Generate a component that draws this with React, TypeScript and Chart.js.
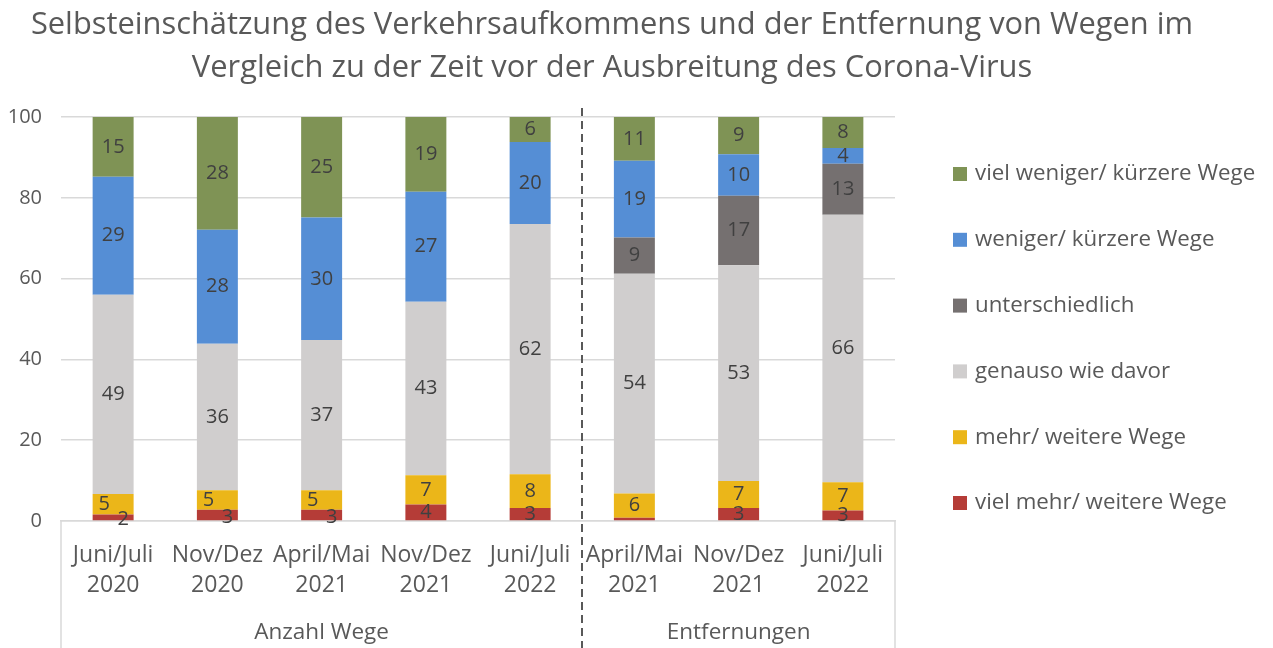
import React, { useEffect, useRef } from 'react';
import { Chart, registerables } from 'chart.js';

Chart.register(...registerables);

const TITLE_LINES = [
  'Selbsteinschätzung des Verkehrsaufkommens und der Entfernung von Wegen im',
  'Vergleich zu der Zeit vor der Ausbreitung des Corona-Virus',
];

const CATEGORIES = [
  ['Juni/Juli', '2020'],
  ['Nov/Dez', '2020'],
  ['April/Mai', '2021'],
  ['Nov/Dez', '2021'],
  ['Juni/Juli', '2022'],
  ['April/Mai', '2021'],
  ['Nov/Dez', '2021'],
  ['Juni/Juli', '2022'],
];

const GROUP_LABELS = ['Anzahl Wege', 'Entfernungen'];
const GROUP_SIZES = [5, 3];

const SERIES_NAMES = [
  'viel mehr/ weitere Wege',
  'mehr/ weitere Wege',
  'genauso wie davor',
  'unterschiedlich',
  'weniger/ kürzere Wege',
  'viel weniger/ kürzere Wege',
];

const VIEL_MEHR = [1.6, 2.8, 2.8, 4.1, 3.2, 0.8, 3.2, 2.6];
const MEHR = [5.1, 4.8, 4.8, 7.2, 8.4, 6.0, 6.7, 7.0];
const GENAUSO = [49.3, 36.3, 37.2, 43.0, 61.9, 54.4, 53.4, 66.2];
const UNTERSCHIEDLICH = [0, 0, 0, 0, 0, 9.0, 17.2, 12.6];
const WENIGER = [29.2, 28.2, 30.3, 27.2, 20.3, 19.0, 10.3, 3.9];
const VIEL_WENIGER = [14.8, 27.9, 24.9, 18.7, 6.2, 10.8, 9.2, 7.8];

const SERIES_VALUES = [VIEL_MEHR, MEHR, GENAUSO, UNTERSCHIEDLICH, WENIGER, VIEL_WENIGER];
const SERIES_COLORS = ['#B53C37', '#EBB619', '#D0CECE', '#757070', '#558ED5', '#7F9355'];

const Y_MIN = 0;
const Y_MAX = 100;
const Y_STEP = 20;

const FONT = '"Open Sans", "DejaVu Sans", sans-serif';
const TEXT_COLOR = '#595959';
const LABEL_COLOR = '#404040';
const GRID_COLOR = '#D9D9D9';

const decorPlugin = {
  id: 'decor',
  afterDatasetsDraw(chart: any) {
    const ctx = chart.ctx;

    // data labels
    ctx.save();
    ctx.font = `20px ${FONT}`;
    ctx.fillStyle = LABEL_COLOR;
    ctx.textAlign = 'center';
    ctx.textBaseline = 'middle';
    const n = CATEGORIES.length;
    for (let j = 0; j < n; j++) {
      const items: { x: number; y: number; text: string }[] = [];
      chart.data.datasets.forEach((ds: any, i: number) => {
        const v = ds.data[j];
        if (!v || v < 1) return;
        const el = chart.getDatasetMeta(i).data[j];
        items.push({ x: el.x, y: (el.y + el.base) / 2, text: String(Math.round(v)) });
      });
      for (let k = 0; k < items.length - 1; k++) {
        if (items[k].y - items[k + 1].y < 17) {
          items[k].x += 10;
          items[k].y += 2;
          items[k + 1].x -= 9;
        }
      }
      items.forEach((it) => ctx.fillText(it.text, it.x, it.y));
    }
    ctx.restore();
  },
  afterDraw(chart: any) {
    const ctx = chart.ctx;
    const area = chart.chartArea;
    const xScale = chart.scales.x;
    const H = chart.height;

    // title
    ctx.save();
    ctx.fillStyle = TEXT_COLOR;
    ctx.textAlign = 'center';
    ctx.textBaseline = 'middle';
    ctx.font = `26px ${FONT}`;
    const w = ctx.measureText(TITLE_LINES[0]).width;
    const size = (26 * 1163) / w;
    ctx.font = `${size}px ${FONT}`;
    ctx.fillText(TITLE_LINES[0], 612, 25);
    ctx.fillText(TITLE_LINES[1], 612, 68);
    ctx.restore();

    // group boxes
    const half = (xScale.right - xScale.left) / CATEGORIES.length / 2;
    ctx.save();
    ctx.strokeStyle = GRID_COLOR;
    ctx.lineWidth = 1.5;
    ctx.beginPath();
    ctx.moveTo(area.left, area.bottom);
    ctx.lineTo(area.left, H);
    ctx.moveTo(area.right, area.bottom);
    ctx.lineTo(area.right, H);
    ctx.stroke();
    ctx.restore();

    let start = 0;
    GROUP_SIZES.forEach((sz, g) => {
      const x0 = xScale.getPixelForValue(start) - half;
      const x1 = xScale.getPixelForValue(start + sz - 1) + half;
      ctx.save();
      ctx.font = `22.5px ${FONT}`;
      ctx.fillStyle = TEXT_COLOR;
      ctx.textAlign = 'center';
      ctx.textBaseline = 'middle';
      ctx.fillText(GROUP_LABELS[g], (x0 + x1) / 2, 633);
      ctx.restore();
      if (g > 0) {
        ctx.save();
        ctx.strokeStyle = '#595959';
        ctx.lineWidth = 2;
        ctx.setLineDash([8, 5]);
        ctx.beginPath();
        ctx.moveTo(Math.round(x0), area.top - 9);
        ctx.lineTo(Math.round(x0), H);
        ctx.stroke();
        ctx.restore();
      }
      start += sz;
    });

    // legend (reverse order)
    ctx.save();
    ctx.font = `22.3px ${FONT}`;
    ctx.textAlign = 'left';
    ctx.textBaseline = 'middle';
    const ds = chart.data.datasets;
    for (let k = 0; k < ds.length; k++) {
      const i = ds.length - 1 - k;
      const cy = 174 + k * 65.8;
      ctx.fillStyle = ds[i].backgroundColor;
      ctx.fillRect(953, cy - 7, 14, 14);
      ctx.fillStyle = TEXT_COLOR;
      ctx.fillText(ds[i].label, 975, cy);
    }
    ctx.restore();
  },
};

export default function App() {
  const canvasRef = useRef<HTMLCanvasElement | null>(null);

  useEffect(() => {
    document.body.style.margin = '0';
    const canvas = canvasRef.current;
    if (!canvas) return;
    const chart = new Chart(canvas, {
      type: 'bar',
      data: {
        labels: CATEGORIES,
        datasets: SERIES_NAMES.map((name, i) => ({
          label: name,
          data: SERIES_VALUES[i],
          backgroundColor: SERIES_COLORS[i],
          borderWidth: 0,
          barPercentage: 0.393,
          categoryPercentage: 1,
        })),
      },
      options: {
        responsive: false,
        animation: false,
        layout: { padding: { left: 0, right: 378, top: 117, bottom: 0 } },
        plugins: {
          legend: { display: false },
          title: { display: false },
          tooltip: { enabled: false },
        },
        scales: {
          x: {
            stacked: true,
            grid: { display: false, drawTicks: false },
            border: { display: true, color: GRID_COLOR, width: 1.5 },
            ticks: {
              font: { family: FONT, size: 23, lineHeight: 1.304 },
              color: TEXT_COLOR,
              padding: 19,
              maxRotation: 0,
              autoSkip: false,
            },
            afterFit: (scale: any) => {
              scale.height = 127;
            },
          },
          y: {
            stacked: true,
            min: Y_MIN,
            max: Y_MAX,
            grid: { color: GRID_COLOR, lineWidth: 1.5, drawTicks: false },
            border: { display: false },
            ticks: {
              stepSize: Y_STEP,
              font: { family: FONT, size: 20 },
              color: TEXT_COLOR,
              padding: 19,
            },
            afterFit: (scale: any) => {
              scale.width = 61;
            },
          },
        },
      },
      plugins: [decorPlugin],
    });
    return () => chart.destroy();
  }, []);

  return (
    <div style={{ width: 1273, height: 648 }}>
      <canvas ref={canvasRef} width={1273} height={648} />
    </div>
  );
}
